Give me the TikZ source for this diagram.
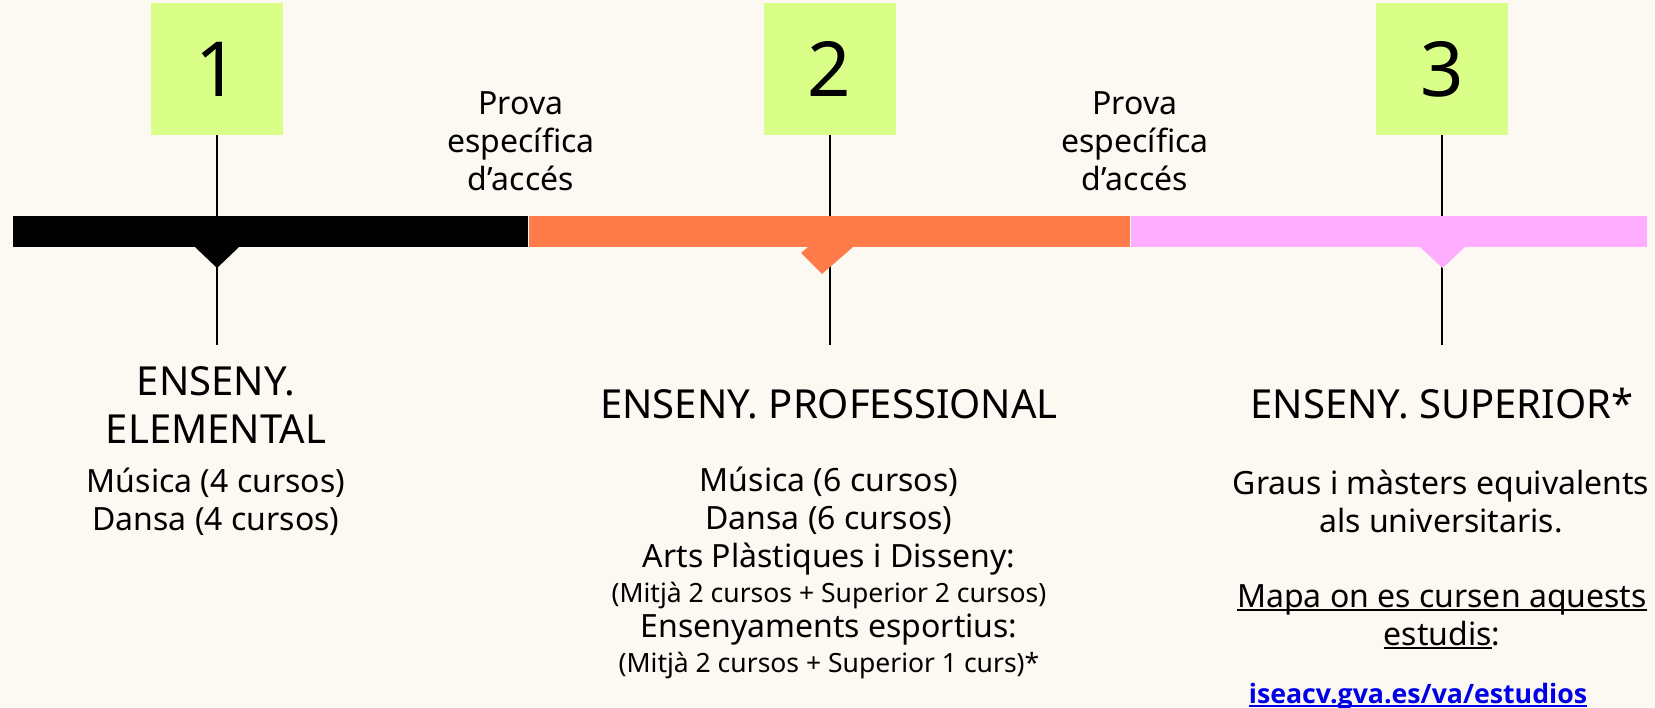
\documentclass[tikz,border=0pt]{standalone}
\usepackage{fontspec}
\setmainfont{Noto Sans}
\newfontfamily\linkfont{Open Sans}
\newcommand{\myul}[1]{\setbox0\hbox{#1}\rlap{\rule[-3.5pt]{\wd0}{2pt}}\box0}
\definecolor{bgc}{RGB}{252,248,242}
\definecolor{boxgreen}{RGB}{217,255,136}
\definecolor{barorange}{RGB}{255,123,74}
\definecolor{barpink}{RGB}{255,173,255}
\definecolor{linkblue}{RGB}{0,0,232}
\newcommand{\fsz}[2]{\fontsize{#1}{#2}\selectfont}
\begin{document}
\begin{tikzpicture}[x=1pt,y=-1pt,
  numbox/.style={fill=boxgreen, minimum width=132pt, minimum height=132pt, inner sep=0pt, font=\fsz{76}{76}},
  stem/.style={line width=2pt, black},
  txt/.style={align=center, font=\fsz{32}{38}, inner sep=0pt},
  head/.style={align=center, font=\fsz{40}{48}, inner sep=0pt}]
\fill[bgc] (0,0) rectangle (1655,707);
\useasboundingbox (0,0) rectangle (1655,707);

% number boxes
\node[numbox] (n1) at (217,69) {1};
\node[numbox] (n2) at (829.5,69) {2};
\node[numbox] (n3) at (1442,69) {3};
\coordinate (e1) at (217,345);
\coordinate (e2) at (829.5,345);
\coordinate (e3) at (1442,345);
\draw[stem] (n1.south) -- (e1);
\draw[stem] (n2.south) -- (e2);
\draw[stem] (n3.south) -- (e3);

% timeline bar
\fill[black] (13,216) rectangle (527.5,247);
\fill[barorange] (528.5,216) rectangle (1129.5,247);
\fill[barpink] (1130.5,216) rectangle (1647,247);

% pointers
\fill[black] (195,247) -- (217,268) -- (239,247) -- cycle;
\fill[barorange] (808,247) -- (801,253) -- (822,274) -- (853,247) -- cycle;
\fill[barpink] (1420,247) -- (1442.5,268) -- (1465,247) -- cycle;

% prova labels
\node[txt] (p1) at (521,141) {Prova\\específica\\d’accés};
\node[txt] (p2) at (1135,141) {Prova\\específica\\d’accés};

% stage 1
\node[head] (h1) at (216,405) {ENSENY.\\ELEMENTAL};
\node[txt] (b1) at (216,502) {Música (4 cursos)\\Dansa (4 cursos)};

% stage 2
\node[head] (h2) at (829,404) {ENSENY. PROFESSIONAL};
\node[txt] (b2) at (829,573) {Música (6 cursos)\\Dansa (6 cursos)\\Arts Plàstiques i Disseny:\\[-3pt]{\fsz{26.5}{35}(Mitjà 2 cursos + Superior 2 cursos)}\\[-3pt]Ensenyaments esportius:\\[-3pt]{\fsz{26.5}{35}(Mitjà 2 cursos + Superior 1 curs)*}};

% stage 3
\node[head] (h3) at (1442,404) {ENSENY. SUPERIOR*};
\node[txt] (g3) at (1441,501) {Graus i màsters equivalents\\als universitaris.};
\node[txt] (m3) at (1442,617) {\myul{Mapa on es cursen aquests}\\\myul{estudis}:};
\node[inner sep=0pt, font=\linkfont\fsz{26.7}{30}\bfseries, text=linkblue] (lk) at (1418,697) {\myul{iseacv.gva.es/va/estudios}};
\end{tikzpicture}
\end{document}
